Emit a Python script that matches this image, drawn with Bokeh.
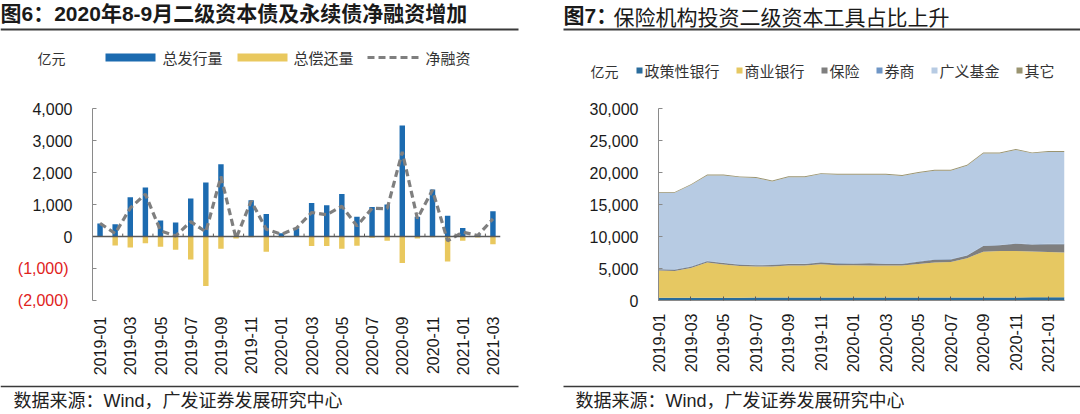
import math
from bokeh.plotting import figure
from bokeh.models import (ColumnDataSource, FixedTicker, Span, Range1d,
                          NumeralTickFormatter, LinearAxis)
from bokeh.layouts import row, column
from bokeh.embed import file_html
from bokeh.resources import INLINE
from bokeh.core.properties import value

# ---------------- Figure 6 data (亿元) ----------------
months6 = ["2019-01", "2019-02", "2019-03", "2019-04", "2019-05", "2019-06", "2019-07",
           "2019-08", "2019-09", "2019-10", "2019-11", "2019-12", "2020-01", "2020-02",
           "2020-03", "2020-04", "2020-05", "2020-06", "2020-07", "2020-08", "2020-09",
           "2020-10", "2020-11", "2020-12", "2021-01", "2021-02", "2021-03"]
issuance = [410, 380, 1230, 1535, 500, 435, 1185, 1690, 2255, 0, 1130, 700, 100, 260,
            1050, 980, 1330, 620, 920, 1000, 3470, 620, 1470, 645, 265, 60, 790]
repayment = [0, -285, -340, -210, -320, -415, -720, -1545, -380, -60, -20, -475, -30, 0,
             -300, -300, -385, -290, -40, -130, -825, -60, -20, -780, -130, -30, -240]
net = [410, 95, 890, 1325, 180, 20, 465, 145, 1875, -60, 1110, 225, 70, 260,
       750, 680, 945, 330, 880, 870, 2645, 560, 1450, -135, 135, 30, 550]
series6 = ["总发行量", "总偿还量", "净融资"]
y6_pos_ticks = [0, 1000, 2000, 3000, 4000]
y6_pos_labels = ["0", "1,000", "2,000", "3,000", "4,000"]
y6_neg_ticks = [-2000, -1000]
y6_neg_labels = ["(2,000)", "(1,000)"]

# ---------------- Figure 7 data (亿元) ----------------
months7 = months6[:26]
policy_bank = [420, 420, 430, 440, 440, 440, 450, 450, 450, 450, 450, 450, 460, 460,
               460, 460, 460, 470, 470, 470, 480, 480, 480, 490, 490, 490]
commercial_bank = [4250, 4200, 4650, 5500, 5200, 4950, 4850, 4850, 5000, 5000, 5200, 5050, 5050,
                   5000, 5000, 5000, 5250, 5450, 5550, 6150, 7150, 7250, 7250, 7150, 7100, 7000]
insurance = [200, 200, 200, 200, 200, 200, 200, 250, 250, 250, 300, 300, 250, 350,
             250, 250, 350, 450, 400, 400, 900, 900, 1150, 1100, 1200, 1300]
brokers = [60, 60, 60, 60, 60, 60, 60, 60, 60, 60, 60, 60, 60, 60,
           60, 60, 60, 60, 60, 60, 60, 60, 60, 60, 60, 60]
funds = [11890, 11940, 12690, 13340, 13640, 13590, 13590, 12990, 13490, 13490, 13740, 13790, 13840,
         13790, 13890, 13690, 13790, 13840, 13790, 13990, 14390, 14290, 14590, 14190, 14340, 14340]
others = [150, 150, 150, 150, 150, 150, 150, 150, 150, 150, 150, 150, 150,
          150, 150, 150, 150, 150, 150, 150, 150, 150, 150, 150, 150, 150]
series7 = ["政策性银行", "商业银行", "保险", "券商", "广义基金", "其它"]
colors7 = ["#2a6c9c", "#e6c862", "#7f7f7f", "#6f96c6", "#b7cbe3", "#9a9470"]

LAT = "Liberation Sans"
CJK = "Noto Sans CJK SC"
MIX = "Liberation Sans, Noto Sans CJK SC"
BLUE6 = "#1c6bb0"
YEL6 = "#e9c85e"
GRAY_LINE = "#7f7f7f"
RED = "#e0221c"
HEAD_H = 80
FOOT_H = 36


def blank(width, height, y_top, y_bottom):
    f = figure(width=width, height=height, x_range=Range1d(0, width),
               y_range=Range1d(y_bottom, y_top), output_backend="svg", toolbar_location=None,
               x_axis_location=None, y_axis_location=None, min_border=0, min_border_left=0,
               min_border_right=0, min_border_top=0, min_border_bottom=0)
    f.grid.visible = False
    f.outline_line_color = None
    f.background_fill_color = "white"
    f.border_fill_color = "white"
    return f


def txt(f, x, y, s, size, color="#222222", font=MIX, style="normal"):
    f.text(x=[x], y=[y], text=[s], text_font=value(font), text_font_size=value(f"{size}px"),
           text_font_style=style, text_color=color, text_align="left", text_baseline="middle")


def swatch(f, x0, x1, yc, h, color):
    f.quad(left=[x0], right=[x1], top=[yc - h / 2], bottom=[yc + h / 2],
           fill_color=color, line_color=None)


def style_axis(ax, standoff, color="#1a1a1a"):
    ax.major_label_standoff = standoff
    ax.major_label_text_font = LAT
    ax.major_label_text_font_size = "16px"
    ax.major_label_text_color = color
    ax.minor_tick_line_color = None


# ================= header (titles, rules, legends) =================
head = blank(1080, HEAD_H, 0, HEAD_H)
txt(head, 0, 13, "图6：2020年8-9月二级资本债及永续债净融资增加", 21, "#1a1a1a", MIX, "bold")
txt(head, 563, 15, "图7：", 21, "#1a1a1a", MIX, "bold")
txt(head, 613, 15, "保险机构投资二级资本工具占比上升", 21, "#1a1a1a", CJK)
head.segment(x0=[0, 563], y0=[29, 29], x1=[518, 1080], y1=[29, 29], line_color="#3a3a3a",
             line_width=2)

# legend of figure 6
txt(head, 37, 57, "亿元", 14, "#333333", CJK)
swatch(head, 105, 155, 57, 8, BLUE6)
txt(head, 162, 57, series6[0], 15, "#333333", CJK)
swatch(head, 237, 287, 57, 8, YEL6)
txt(head, 293, 57, series6[1], 15, "#333333", CJK)
head.segment(x0=[367], y0=[57], x1=[418], y1=[57], line_color=GRAY_LINE, line_width=3.2,
             line_dash="7 4")
txt(head, 425, 57, series6[2], 15, "#333333", CJK)

# legend of figure 7
txt(head, 590, 70, "亿元", 14, "#333333", CJK)
lx = 636
for name, color in zip(series7, colors7):
    swatch(head, lx, lx + 6, 70, 6, color)
    txt(head, lx + 8, 70, name, 15, "#333333", CJK)
    lx += 8 + 15 * len(name) + 17

# ================= Figure 6 =================
p6 = figure(width=540, height=298, x_range=Range1d(-0.5, 26.5), y_range=Range1d(-2000, 4000),
            output_backend="svg", toolbar_location=None,
            min_border_left=92, min_border_right=40, min_border_top=12, min_border_bottom=75)
p6.grid.visible = False
p6.outline_line_color = None
p6.background_fill_color = "white"
p6.border_fill_color = "white"

idx6 = list(range(len(months6)))
src6 = ColumnDataSource(dict(x=idx6, issue=issuance, repay=repayment, net=net))
p6.vbar(x="x", top="issue", bottom=0, width=0.36, source=src6, fill_color=BLUE6, line_color=None)
p6.vbar(x="x", top=0, bottom="repay", width=0.36, source=src6, fill_color=YEL6, line_color=None)
p6.add_layout(Span(location=0, dimension="width", line_color="#5a5a5a", line_width=1.3))
edges = [i + 0.5 for i in idx6[1:-1:2]]
p6.segment(x0=edges, y0=[0] * len(edges), x1=edges, y1=[90] * len(edges),
           line_color="#5a5a5a", line_width=1)
p6.line("x", "net", source=src6, line_color=GRAY_LINE, line_width=3.2, line_dash="7 4")

ya = p6.yaxis[0]
ya.ticker = FixedTicker(ticks=y6_neg_ticks + y6_pos_ticks)
ya.major_label_overrides = dict(zip(y6_pos_ticks, y6_pos_labels)) | {t: "" for t in y6_neg_ticks}
ya.axis_line_color = "#8a8a8a"
ya.major_tick_line_color = "#8a8a8a"
ya.major_tick_in = 4
ya.major_tick_out = 0
style_axis(ya, 20)

ya_neg = LinearAxis(ticker=FixedTicker(ticks=y6_neg_ticks),
                    major_label_overrides=dict(zip(y6_neg_ticks, y6_neg_labels)),
                    axis_line_color=None, major_tick_line_color=None)
style_axis(ya_neg, -45, RED)
p6.add_layout(ya_neg, "left")

xa = p6.xaxis[0]
xa.ticker = FixedTicker(ticks=idx6[::2])
xa.major_label_overrides = {i: months6[i] for i in idx6[::2]}
xa.major_label_orientation = math.pi / 2
xa.axis_line_color = None
xa.major_tick_line_color = None
style_axis(xa, 10)

# ================= Figure 7 =================
p7 = figure(width=540, height=298, x_range=Range1d(0, 25), y_range=Range1d(0, 30000),
            output_backend="svg", toolbar_location=None,
            min_border_left=118, min_border_right=16, min_border_top=28, min_border_bottom=78)
p7.grid.visible = False
p7.outline_line_color = None
p7.background_fill_color = "white"
p7.border_fill_color = "white"

idx7 = list(range(len(months7)))
src7 = ColumnDataSource(dict(x=idx7, s0=policy_bank, s1=commercial_bank, s2=insurance,
                             s3=brokers, s4=funds, s5=others))
p7.varea_stack(stackers=["s0", "s1", "s2", "s3", "s4", "s5"], x="x", color=colors7, source=src7)

ya7 = p7.yaxis[0]
ya7.ticker = FixedTicker(ticks=[0, 5000, 10000, 15000, 20000, 25000, 30000])
ya7.formatter = NumeralTickFormatter(format="0,0")
ya7.axis_line_color = "#8a8a8a"
ya7.major_tick_line_color = "#8a8a8a"
ya7.major_tick_in = 4
ya7.major_tick_out = 0
style_axis(ya7, 20)

xa7 = p7.xaxis[0]
xa7.ticker = FixedTicker(ticks=idx7[::2])
xa7.major_label_overrides = {i: months7[i] for i in idx7[::2]}
xa7.major_label_orientation = math.pi / 2
xa7.axis_line_color = "#8a8a8a"
xa7.major_tick_line_color = "#5a5a5a"
xa7.major_tick_in = 4
xa7.major_tick_out = 0
style_axis(xa7, 13)

# ================= footer =================
foot = blank(1080, FOOT_H, 378, 414)
foot.segment(x0=[0, 563], y0=[386, 386], x1=[518, 1080], y1=[386, 386], line_color="#3a3a3a",
             line_width=1.5)
txt(foot, 13, 400, "数据来源：Wind，广发证券发展研究中心", 18, "#222222", MIX)
txt(foot, 575, 400, "数据来源：Wind，广发证券发展研究中心", 18, "#222222", MIX)

layout = column(head, row(p6, p7, spacing=0), foot, spacing=0)
open("out.html", "w").write(file_html(layout, INLINE))
